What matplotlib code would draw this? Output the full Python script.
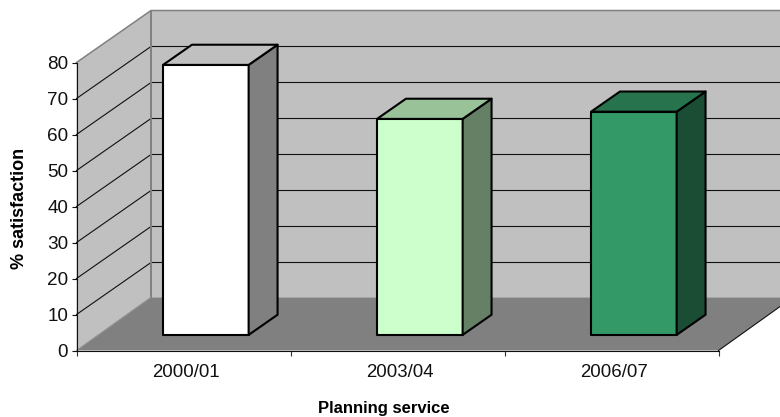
# -*- coding: utf-8 -*-
import matplotlib
matplotlib.use('Agg')
import matplotlib.pyplot as plt
from matplotlib.patches import Polygon
from matplotlib.transforms import ScaledTranslation

plt.rcParams['font.family'] = ['Liberation Sans', 'DejaVu Sans']

years = ['2000/01', '2003/04', '2006/07']
satisfaction = [75, 60, 62]
y_ticks = [0, 10, 20, 30, 40, 50, 60, 70, 80]

front_cols = ['#FFFFFF', '#CCFFCC', '#339966']
top_cols = ['#C0C0C0', '#99C299', '#26734D']
side_cols = ['#808080', '#668066', '#1A4D33']

W, H = 780, 417
X0, X1 = 76.5, 718.5     # plot box in pixels
Y0, Y1 = 350.5, 62.5
BAR_W = 0.4

fig = plt.figure(figsize=(W / 100, H / 100), dpi=100)
ax = fig.add_axes([X0 / W, 1 - Y0 / H, (X1 - X0) / W, (Y0 - Y1) / H])
ax.set_xlim(0, len(years))
ax.set_ylim(0, 80)
ax.patch.set_visible(False)

# depth of the box, in data units
dx = 74.5 / ((X1 - X0) / len(years))
dy = 52 / ((Y0 - Y1) / 80)
floor_dy = 53.2 / ((Y0 - Y1) / 80)


def shift(x, y, d, d_y=dy):
    # oblique projection: d = 0 at the front, d = 1 at the back wall
    return (x + dx * d, y + d_y * d)


def face(pts, color, edge='none', lw=0, z=1):
    ax.add_patch(Polygon(pts, closed=True, facecolor=color, edgecolor=edge,
                         linewidth=lw, zorder=z, clip_on=False,
                         joinstyle='round'))


n = len(years)
# walls and floor
face([shift(0, 0, 1, floor_dy), shift(n, 0, 1, floor_dy),
      shift(n, 80, 1), shift(0, 80, 1)], '#C0C0C0')
face([shift(0, 0, 0), shift(0, 0, 1, floor_dy),
      shift(0, 80, 1), shift(0, 80, 0)], '#C0C0C0')
face([shift(0, 0, 0), shift(n, 0, 0), shift(n, 0, 1, floor_dy),
      shift(0, 0, 1, floor_dy)], '#808080', z=1.5)

for v in y_ticks[1:-1]:
    a = shift(0, v, 0)
    b = shift(0, v, 1)
    c = shift(n, v, 1)
    ax.plot([a[0], b[0], c[0]], [a[1], b[1], c[1]], color='#101010', lw=0.8,
            zorder=1.2, clip_on=False)

# wall outlines
a = shift(0, 80, 0)
b = shift(0, 80, 1)
c = shift(n, 80, 1)
ax.plot([a[0], b[0], c[0]], [a[1], b[1], c[1]], color='#808080', lw=1.1,
        zorder=1.3, clip_on=False)
e = shift(0, 0, 1, floor_dy)
ax.plot([b[0], e[0]], [b[1], e[1]], color='#808080', lw=1.4, zorder=1.3, clip_on=False)
f = shift(0, 0, 0)
ax.plot([f[0], e[0]], [f[1], e[1]], color='#909090', lw=0.8, zorder=1.6, clip_on=False)

# front right floor edge
g = shift(n, 0, 0)
h = shift(n, 0, 1, floor_dy)
ax.plot([g[0], h[0]], [g[1], h[1]], color='#101010', lw=0.8, zorder=1.6, clip_on=False)

# bars
near, far = 0.3, 0.688
for i, val in enumerate(satisfaction):
    l = i + 0.5 - BAR_W / 2
    r = i + 0.5 + BAR_W / 2
    face([shift(l, 0, near), shift(r, 0, near), shift(r, val, near), shift(l, val, near)],
         front_cols[i], 'black', 1.5, 3)
    face([shift(r, 0, near), shift(r, 0, far), shift(r, val, far), shift(r, val, near)],
         side_cols[i], 'black', 1.5, 3)
    face([shift(l, val, near), shift(r, val, near), shift(r, val, far), shift(l, val, far)],
         top_cols[i], 'black', 1.5, 3)

# axes
for s in ['top', 'right']:
    ax.spines[s].set_visible(False)
for s in ['left', 'bottom']:
    ax.spines[s].set_linewidth(0.8)
    ax.spines[s].set_color('#101010')
    ax.spines[s].set_zorder(2)
ax.set_yticks(y_ticks)
ax.set_xticks(range(n + 1))
ax.set_xticklabels([])
ax.set_xticks([i + 0.5 for i in range(n)], minor=True)
ax.set_xticklabels(years, minor=True)
ax.tick_params(axis='y', length=3.5, width=0.8, pad=2.5, labelsize=13.6, color='#101010', labelcolor='#111111')
ax.tick_params(axis='x', which='major', length=3.5, width=0.8, color='#303030')
ax.tick_params(axis='x', which='minor', length=0, pad=10, labelsize=13.4, labelcolor='#111111')

# nudge the year labels slightly to the right
nudge = ScaledTranslation(1.5 / 72, 0, fig.dpi_scale_trans)
for lab in ax.get_xticklabels(minor=True):
    lab.set_transform(lab.get_transform() + nudge)

fig.text(384 / W, 1 - 408.5 / H, 'Planning service', ha='center', va='center',
         fontsize=12, fontweight='bold')
fig.text(20 / W, 1 - 208.5 / H, '% satisfaction', ha='center', va='center',
         rotation=90, fontsize=13, fontweight='bold')

fig.savefig('out.png', dpi=100)
